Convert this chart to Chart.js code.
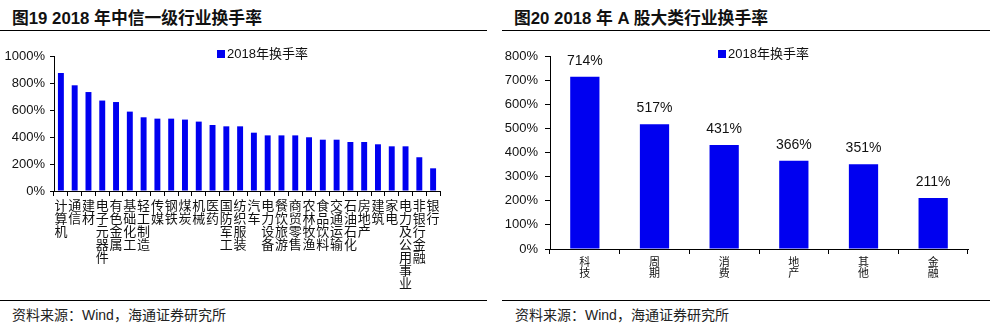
<!DOCTYPE html>
<html>
<head>
<meta charset="utf-8">
<script src="https://cdn.jsdelivr.net/npm/chart.js@4/dist/chart.umd.min.js"></script>
<style>
  body { margin: 0; background: #fff; }
  #page { position: relative; width: 992px; height: 324px; overflow: hidden; background: #fff; }
  .title { position: absolute; top: 5px; font: bold 16.8px 'Liberation Sans', 'Noto Sans CJK SC', sans-serif; color: #111; white-space: nowrap; }
  .rule { position: absolute; height: 1px; background: #000; }
  .source { position: absolute; top: 304px; font: 14px 'Liberation Sans', 'Noto Sans CJK SC', sans-serif; color: #222; white-space: nowrap; }
  canvas { position: absolute; top: 0; }
</style>
</head>
<body>
<div id="page">
  <div class="title" style="left:12px">图19 2018 年中信一级行业换手率</div>
  <div class="title" style="left:514px">图20 2018 年 A 股大类行业换手率</div>
  <div class="rule" style="left:0;width:487px;top:30px"></div>
  <div class="rule" style="left:502px;width:488px;top:30px"></div>

  <canvas id="industryChart" width="496" height="300" style="left:0"></canvas>
  <canvas id="sectorChart" width="496" height="300" style="left:496px"></canvas>

  <div class="rule" style="left:0;width:487px;top:300px"></div>
  <div class="rule" style="left:502px;width:488px;top:300px"></div>
  <div class="source" style="left:12px">资料来源：Wind，海通证券研究所</div>
  <div class="source" style="left:515px">资料来源：Wind，海通证券研究所</div>
</div>

<script>
// 中信一级行业 2018 年换手率（%）
const industries = ['计算机', '通信', '建材', '电子元器件', '有色金属', '基础化工', '轻工制造',
  '传媒', '钢铁', '煤炭', '机械', '医药', '国防军工', '纺织服装', '汽车', '电力设备',
  '餐饮旅游', '商贸零售', '农林牧渔', '食品饮料', '交通运输', '石油石化', '房地产',
  '建筑', '家电', '电力及公用事业', '非银行金融', '银行'];
const industryTurnover = [874, 783, 733, 670, 659, 588, 546, 536, 536, 529, 514, 489, 479, 479,
  432, 412, 412, 412, 398, 380, 380, 363, 363, 346, 331, 331, 250, 168];
const industryTicks = { min: 0, max: 1000, step: 200 };

// A 股大类行业 2018 年换手率（%）
const sectors = ['科技', '周期', '消费', '地产', '其他', '金融'];
const sectorTurnover = [714, 517, 431, 366, 351, 211];
const sectorTicks = { min: 0, max: 800, step: 100 };

const seriesName = '2018年换手率';
const BAR_BLUE = '#0000f0';
const LATIN = "'Liberation Sans', 'Noto Sans CJK SC', sans-serif";
const CJK = "'Noto Sans CJK SC', sans-serif";

// small legend: square + label, drawn at a fixed spot
const boxLegend = {
  id: 'boxLegend',
  afterDraw(chart, args, opts) {
    const ctx = chart.ctx;
    const ds = chart.data.datasets[0];
    ctx.save();
    ctx.fillStyle = ds.backgroundColor;
    ctx.fillRect(opts.x, opts.y - 4, 8, 8);
    ctx.fillStyle = '#111';
    ctx.font = '13px ' + LATIN;
    ctx.textBaseline = 'middle';
    ctx.textAlign = 'left';
    ctx.fillText(ds.label, opts.x + 10, opts.y);
    ctx.restore();
  }
};

// value labels above bars
const barValues = {
  id: 'barValues',
  afterDatasetsDraw(chart, args, opts) {
    if (!opts.show) return;
    const ctx = chart.ctx;
    const meta = chart.getDatasetMeta(0);
    const data = chart.data.datasets[0].data;
    ctx.save();
    ctx.fillStyle = '#111';
    ctx.font = '14px ' + LATIN;
    ctx.textAlign = 'center';
    ctx.textBaseline = 'middle';
    meta.data.forEach((bar, i) => {
      ctx.fillText(data[i] + '%', bar.x, bar.y - 16);
    });
    ctx.restore();
  }
};

function makeBarChart(id, cfg) {
  const ctx = document.getElementById(id).getContext('2d');
  return new Chart(ctx, {
    type: 'bar',
    data: {
      labels: cfg.labels.map(s => s.split('')),
      datasets: [{
        label: seriesName,
        data: cfg.values,
        backgroundColor: BAR_BLUE,
        borderWidth: 0,
        categoryPercentage: 1,
        barPercentage: cfg.barPct
      }]
    },
    options: {
      responsive: false,
      animation: false,
      layout: { padding: { top: 56, right: cfg.padRight, left: 0, bottom: 0 } },
      scales: {
        x: {
          afterFit: scale => { scale.height = cfg.xHeight; },
          grid: {
            display: true,
            offset: true,
            drawOnChartArea: false,
            drawTicks: true,
            tickLength: 5,
            color: '#000'
          },
          border: { display: true, color: '#000', width: 1 },
          ticks: {
            autoSkip: false,
            maxRotation: 0,
            minRotation: 0,
            padding: cfg.xPad,
            color: '#111',
            font: { family: CJK, size: cfg.xFont, lineHeight: cfg.xLine }
          }
        },
        y: {
          min: cfg.ticks.min,
          max: cfg.ticks.max,
          afterFit: scale => { scale.width = 54; },
          grid: {
            display: true,
            drawOnChartArea: false,
            drawTicks: true,
            tickLength: cfg.yTick,
            color: '#000'
          },
          border: { display: true, color: '#000', width: 1 },
          ticks: {
            stepSize: cfg.ticks.step,
            padding: cfg.yPad,
            color: '#111',
            font: { family: LATIN, size: 13 },
            callback: v => v + '%'
          }
        }
      },
      plugins: {
        legend: { display: false },
        tooltip: { enabled: false },
        boxLegend: { x: cfg.legendX, y: 54 },
        barValues: { show: cfg.showValues }
      }
    },
    plugins: [boxLegend, barValues]
  });
}

makeBarChart('industryChart', {
  labels: industries,
  values: industryTurnover,
  ticks: industryTicks,
  barPct: 0.43,
  padRight: 56,
  xHeight: 109,
  xPad: 3,
  xFont: 13,
  xLine: 1.0,
  yTick: 4,
  yPad: 5,
  legendX: 217,
  showValues: false
});

makeBarChart('sectorChart', {
  labels: sectors,
  values: sectorTurnover,
  ticks: sectorTicks,
  barPct: 0.42,
  padRight: 24,
  xHeight: 51,
  xPad: 3,
  xFont: 11,
  xLine: 0.95,
  yTick: 5,
  yPad: 7,
  legendX: 222,
  showValues: true
});
</script>
</body>
</html>
